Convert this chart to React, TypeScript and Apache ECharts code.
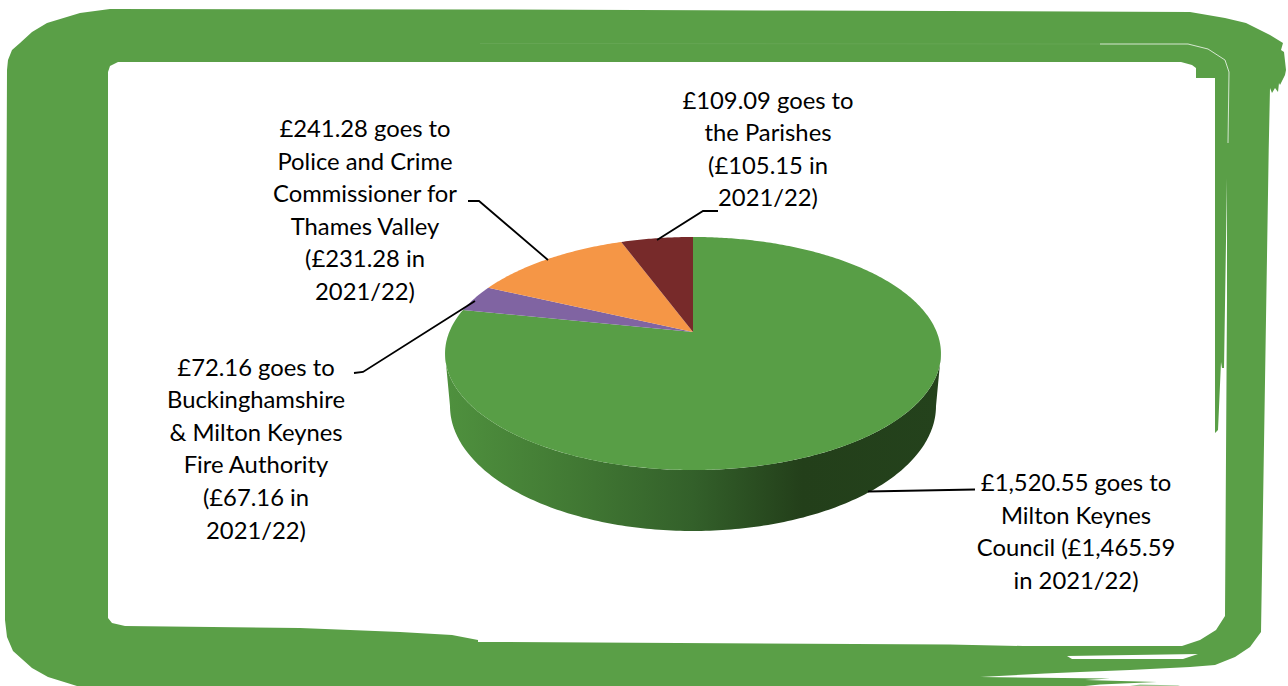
import React, { useEffect, useRef } from "react";
import * as echarts from "echarts";

// ---- data ----
const sliceNames = ["Milton Keynes Council", "Buckinghamshire & Milton Keynes Fire Authority", "Police and Crime Commissioner for Thames Valley", "the Parishes"];
const sliceValues = [1520.55, 72.16, 241.28, 109.09];
const sliceColors = ["#589E46", "#8064A2", "#F59646", "#772A2A"];

const labelTexts = [
  "£1,520.55 goes to\nMilton Keynes\nCouncil (£1,465.59\nin 2021/22)",
  "£72.16 goes to\nBuckinghamshire\n& Milton Keynes\nFire Authority\n(£67.16 in\n2021/22)",
  "£241.28 goes to\nPolice and Crime\nCommissioner for\nThames Valley\n(£231.28 in\n2021/22)",
  "£109.09 goes to\nthe Parishes\n(£105.15 in\n2021/22)",
];
const labelCentres = [
  [1076, 531],
  [256, 448],
  [365, 209.5],
  [768, 148.5],
];
const leaderLines = [
  [[868, 491.5], [975, 489.5]],
  [[354, 373], [363, 372], [475, 301]],
  [[468, 201], [479, 201], [548, 260]],
  [[718, 211], [703, 211], [657, 240]],
];

// ---- frame (painted brush border) ----
const GREEN = "#5A9F47";
const frameOuter = [
  [7, 70], [8, 60], [12, 50], [20, 43], [32, 32], [47, 23], [80, 13], [110, 9], [480, 9.5], [800, 10.5], [1190, 12],
  [1225, 18], [1246, 23], [1270, 35], [1283, 43], [1281, 50], [1284, 52], [1286, 70], [1285, 75], [1280, 85], [1279, 83],
  [1278, 92], [1275, 88], [1272, 93], [1270, 88], [1268.7, 150], [1262, 570], [1261, 632], [1250, 647], [1235, 657],
  [1215, 665], [1190, 667], [1130, 670], [1080, 672], [1045, 673.5], [980, 677], [1110, 678.5], [1085, 680], [1157, 682],
  [1100, 684.5], [1085, 686], [77, 686], [48, 677], [32, 668], [13, 651], [7, 637], [5, 620], [5, 546],
];
const frameInner = [
  [108, 72], [110, 66], [118, 62], [1181, 62], [1192, 65], [1196, 68], [1196, 78], [1215, 78], [1215, 433], [1218, 430],
  [1221, 362], [1222, 368], [1224, 368], [1227, 178], [1227, 300], [1225, 616], [1216, 630], [1200, 640], [1182, 646],
  [1023, 646], [950, 644.5], [500, 642], [478, 642], [478, 640], [452, 635], [400, 632], [300, 628], [125, 626], [112, 623], [108, 618],
];
const frameSlit = [[1067, 656], [1198, 654], [1183, 659], [1072, 659]];
const frameTail = [[1130, 686], [1140, 684.6], [1180, 685.5], [1178, 686]];
const frameStreak = [[1100, 44], [1188, 44], [1208, 49], [1225, 60], [1229, 72], [1228, 143]];
const frameFaintStreak = [[480, 43.5], [1100, 44]];

// ---- perspective of the tilted pie ----
const CX = 693, APEX_Y = 332, A = 243.7, PA = 51.3, PC = -0.1845;
const project = (deg: number) => {
  const t = (deg * Math.PI) / 180;
  const u = Math.sin(t), v = -Math.cos(t), w = 1 + PC * v;
  return [CX + (A * u) / w, (PA * v + APEX_Y) / w];
};
const arcPoints = (from: number, to: number) => {
  const n = Math.max(2, Math.ceil(Math.abs(to - from) * 1.5));
  const pts: number[][] = [];
  for (let i = 0; i <= n; i++) pts.push(project(from + ((to - from) * i) / n));
  return pts;
};
const wallPoints = () => {
  const pts = arcPoints(100.6, 259.4);
  for (let d = 270; d >= 90; d -= 1) {
    const t = (d * Math.PI) / 180;
    pts.push([693 + 243 * Math.sin(t), 406 - 125 * Math.cos(t)]);
  }
  return pts;
};

const total = sliceValues.reduce((a, b) => a + b, 0);

export default function App() {
  const ref = useRef<HTMLDivElement>(null);
  useEffect(() => {
    const chart = echarts.init(ref.current!, null, { renderer: "svg" });
    const wallFill = new echarts.graphic.LinearGradient(0, 0, 1, 0, [
      { offset: 0, color: "#4F913E" },
      { offset: 0.25, color: "#427A34" },
      { offset: 0.5, color: "#33602A" },
      { offset: 0.72, color: "#233F1A" },
      { offset: 1, color: "#24421C" },
    ]);
    chart.setOption({
      animation: false,
      backgroundColor: "#fff",
      graphic: {
        elements: [
          { type: "polygon", z: 0, silent: true, shape: { points: frameOuter }, style: { fill: GREEN } },
          { type: "polygon", z: 0, silent: true, shape: { points: frameTail }, style: { fill: GREEN, opacity: 0.6 } },
          { type: "polygon", z: 0, silent: true, shape: { points: frameInner }, style: { fill: "#fff" } },
          { type: "polygon", z: 0, silent: true, shape: { points: frameSlit }, style: { fill: "#fff" } },
          { type: "polyline", z: 0, silent: true, shape: { points: frameStreak }, style: { stroke: "#fff", lineWidth: 1, opacity: 0.75, fill: "none" } },
          { type: "polyline", z: 0, silent: true, shape: { points: frameFaintStreak }, style: { stroke: "#fff", lineWidth: 1, opacity: 0.07, fill: "none" } },
          ...leaderLines.map((pts) => ({
            type: "polyline", z: 9, silent: true, shape: { points: pts },
            style: { stroke: "#000", lineWidth: 1.8, fill: "none" },
          })),
          ...labelTexts.map((t, i) => ({
            type: "text", z: 10, silent: true, x: labelCentres[i][0], y: labelCentres[i][1],
            style: {
              text: t, fill: "#000", font: "23.8px Lato", fontFamily: "Lato", fontSize: 23.8,
              lineHeight: 32.6, align: "center", verticalAlign: "middle",
            },
          })),
        ],
      },
      series: [
        {
          type: "custom",
          coordinateSystem: "none",
          silent: true,
          z: 2,
          data: sliceValues.map((v, i) => ({ name: sliceNames[i], value: v })),
          renderItem: (params: any) => {
            const i = params.dataIndex;
            let acc = 0;
            for (let k = 0; k < i; k++) acc += sliceValues[k];
            const from = (acc / total) * 360;
            const to = ((acc + sliceValues[i]) / total) * 360;
            const children: any[] = [];
            if (i === 0) {
              children.push({ type: "polygon", shape: { points: wallPoints() }, style: { fill: wallFill } });
            }
            children.push({
              type: "polygon",
              shape: { points: [[CX, APEX_Y], ...arcPoints(from, to)] },
              style: { fill: sliceColors[i] },
            });
            return { type: "group", children };
          },
        },
      ],
    });
    return () => chart.dispose();
  }, []);
  return <div ref={ref} style={{ position: "absolute", left: 0, top: 0, width: 1288, height: 686 }} />;
}
